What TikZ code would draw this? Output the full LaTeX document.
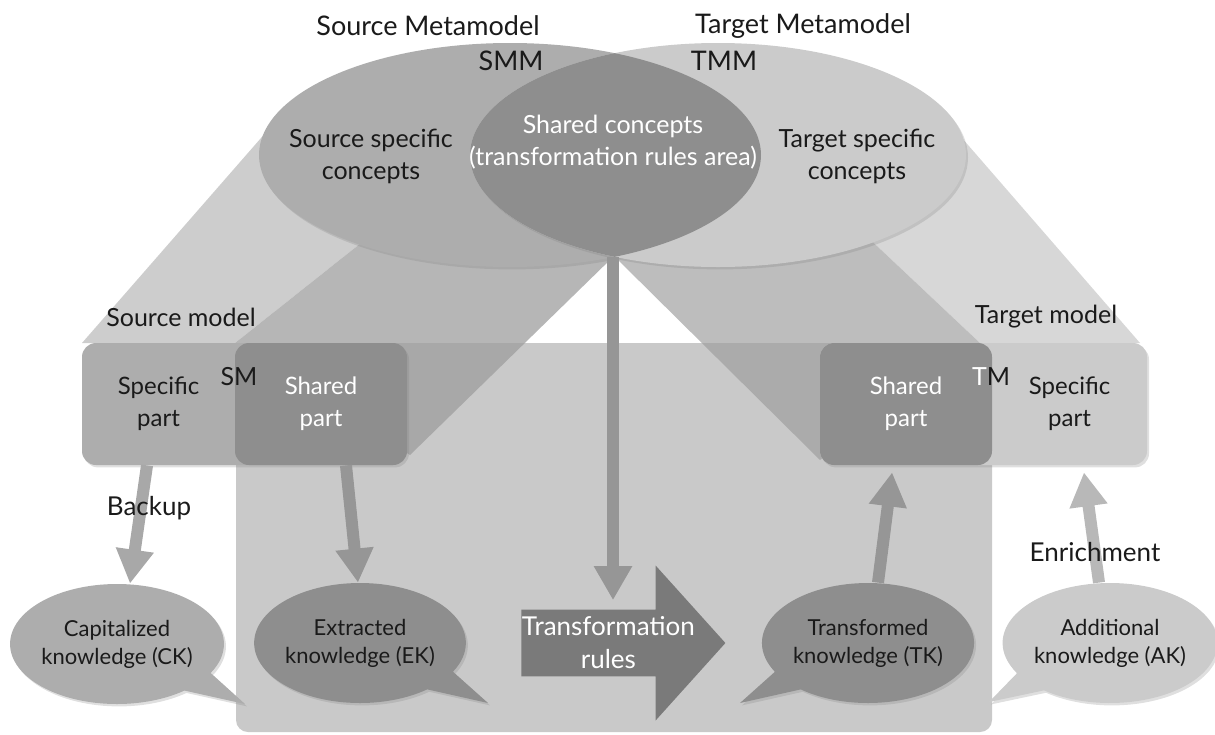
\documentclass[tikz,border=0pt]{standalone}
\usepackage{fontspec}
\setmainfont{Lato}
\usetikzlibrary{shapes.geometric,shapes.callouts,shapes.arrows,arrows.meta,shadows}
\definecolor{srcgrey}{HTML}{ADADAD}
\definecolor{tgtgrey}{HTML}{CBCBCB}
\definecolor{lensgrey}{HTML}{8E8E8E}
\definecolor{bandlight}{HTML}{CDCDCD}
\definecolor{bandmid}{HTML}{B6B6B6}
\definecolor{bandlightR}{HTML}{D7D7D7}
\definecolor{bandmidR}{HTML}{BDBDBD}
\definecolor{rectgrey}{HTML}{9D9D9D}
\definecolor{rulesgrey}{HTML}{7A7A7A}
\definecolor{flowgrey}{HTML}{969696}
\definecolor{flowlight}{HTML}{A8A8A8}
\definecolor{flowpale}{HTML}{B8B8B8}
\definecolor{inkgrey}{HTML}{1A1A1A}

\begin{document}
\begin{tikzpicture}[x=0.5pt,y=-0.5pt]
    \tikzstyle{softshadow}=[drop shadow={shadow xshift=1pt,shadow yshift=-1.2pt,opacity=0.25}]
    \tikzstyle{metamodel}=[ellipse,inner sep=0pt,minimum height=112pt,softshadow]
    \tikzstyle{part}=[rectangle,rounded corners=7pt,minimum height=61pt,inner sep=0pt,align=center,
        font=\fontsize{12}{16}\selectfont]
    \tikzstyle{bubble}=[ellipse callout,inner sep=0pt,minimum width=105pt,minimum height=60pt,
        callout pointer arc=22,align=center,text=inkgrey,softshadow,font=\fontsize{11}{14}\selectfont]
    \tikzstyle{flow}=[-{Triangle[width=18pt,length=17pt]},line width=6pt]
    \tikzstyle{title}=[font=\fontsize{13.5}{15}\selectfont,text=inkgrey]
    \tikzstyle{annot}=[font=\fontsize{12.5}{16}\selectfont,align=center,text=inkgrey]

    \useasboundingbox (0,0) rectangle (1215,734);

    % Projections from the metamodels down to the models
    \fill[bandlight] (268,130) -- (82,343) -- (235,343) -- (541,100) -- cycle;
    \fill[bandmid] (541,100) -- (235,343) -- (410,455) -- (614,256) -- (614,100) -- cycle;
    \fill[bandlightR] (955,130) -- (1140,343) -- (980,343) -- (722,100) -- cycle;
    \fill[bandmidR] (614,256) -- (820,460) -- (980,343) -- (722,100) -- (614,100) -- cycle;
    \fill[rectgrey,opacity=0.55,rounded corners=6pt] (236,343) rectangle (992,732);

    % Draw the metamodels
    \node[metamodel,fill=srcgrey,minimum width=251pt] (smm) at (510,155) {};
    \node[metamodel,fill=tgtgrey,minimum width=248pt] (tmm) at (718,155) {};
    \begin{scope}
        \clip (510,155) ellipse [x radius=251,y radius=112];
        \fill[lensgrey] (718,155) ellipse [x radius=248,y radius=112];
    \end{scope}
    \coordinate (lensTip) at (613,257);

    \node[title] (smmName) at (428,26) {Source Metamodel};
    \node[title] (smmTag) at (511,61) {SMM};
    \node[title] (tmmName) at (803,26) {Target Metamodel};
    \node[title] (tmmTag) at (724,61) {TMM};
    \node[annot] (srcSpec) at (371,156) {Source specific\\concepts};
    \node[annot,text=white] (shared) at (613,142) {Shared concepts\\(transformation rules area)};
    \node[annot] (tgtSpec) at (857,156) {Target specific\\concepts};

    % Draw the source and target models
    \node[part,fill=srcgrey,minimum width=162.5pt,softshadow] (smBox) at (244.5,404) {};
    \node[part,fill=lensgrey,minimum width=86pt,text=white] (smShared) at (321,404) {Shared\\part};
    \node[part,minimum width=76.5pt,text=inkgrey] (smSpec) at (158.5,404) {Specific\\part};
    \node[annot] (smTag) at (239,377) {SM};
    \node[annot] (smName) at (181,317) {Source model};

    \node[part,fill=tgtgrey,minimum width=163.5pt,softshadow] (tmBox) at (983.5,404) {};
    \node[part,fill=lensgrey,minimum width=86pt,text=white] (tmShared) at (906,404) {Shared\\part};
    \node[part,minimum width=77.5pt,text=inkgrey] (tmSpec) at (1069.5,404) {Specific\\part};
    \node[annot] (tmTag) at (991,377) {{\color{white}T}M};
    \node[annot] (tmName) at (1046,317) {Target model};

    % Transformation rules
    \node[single arrow,fill=rulesgrey,minimum height=102pt,minimum width=77.5pt,
        single arrow head extend=17.5pt,single arrow tip angle=96,inner sep=0pt,
        anchor=tail,text=white,align=center,font=\fontsize{13}{16.5}\selectfont] (rules) at (521,643) {Transformation\\rules};

    % Knowledge bubbles
    \node[bubble,fill=srcgrey,callout absolute pointer={(245,704)}] (ck) at (117,644) {Capitalized\\knowledge (CK)};
    \node[bubble,fill=lensgrey,callout absolute pointer={(488,703)}] (ek) at (360,643) {Extracted\\knowledge (EK)};
    \node[bubble,fill=lensgrey,callout absolute pointer={(740,703)}] (tk) at (868,643) {Transformed\\knowledge (TK)};
    \node[bubble,fill=tgtgrey,callout absolute pointer={(989,702)}] (ak) at (1110,643) {Additional\\knowledge (AK)};

    % Connect models and knowledge
    \draw[flow,flowgrey,shorten >=4.5pt] (lensTip) -- (lensTip |- rules.north);
    \draw[flow,flowlight] ([xshift=-5.75pt]smSpec.south) -- ([xshift=6.5pt]ck.north);
    \draw[flow,flowgrey] ([xshift=12.5pt]smShared.south) -- ([xshift=-1pt]ek.north);
    \draw[flow,flowgrey,shorten >=3.5pt] ([xshift=5pt]tk.north) -- ([xshift=-6.5pt]tmShared.south);
    \draw[flow,flowpale,shorten >=3.5pt] ([xshift=-5.5pt]ak.north) -- ([xshift=6.75pt]tmSpec.south);

    \node[annot,font=\fontsize{13}{14}\selectfont] (backup) at (149,508) {Backup};
    \node[annot,font=\fontsize{13}{14}\selectfont] (enrich) at (1095,552) {Enrichment};
\end{tikzpicture}
\end{document}
